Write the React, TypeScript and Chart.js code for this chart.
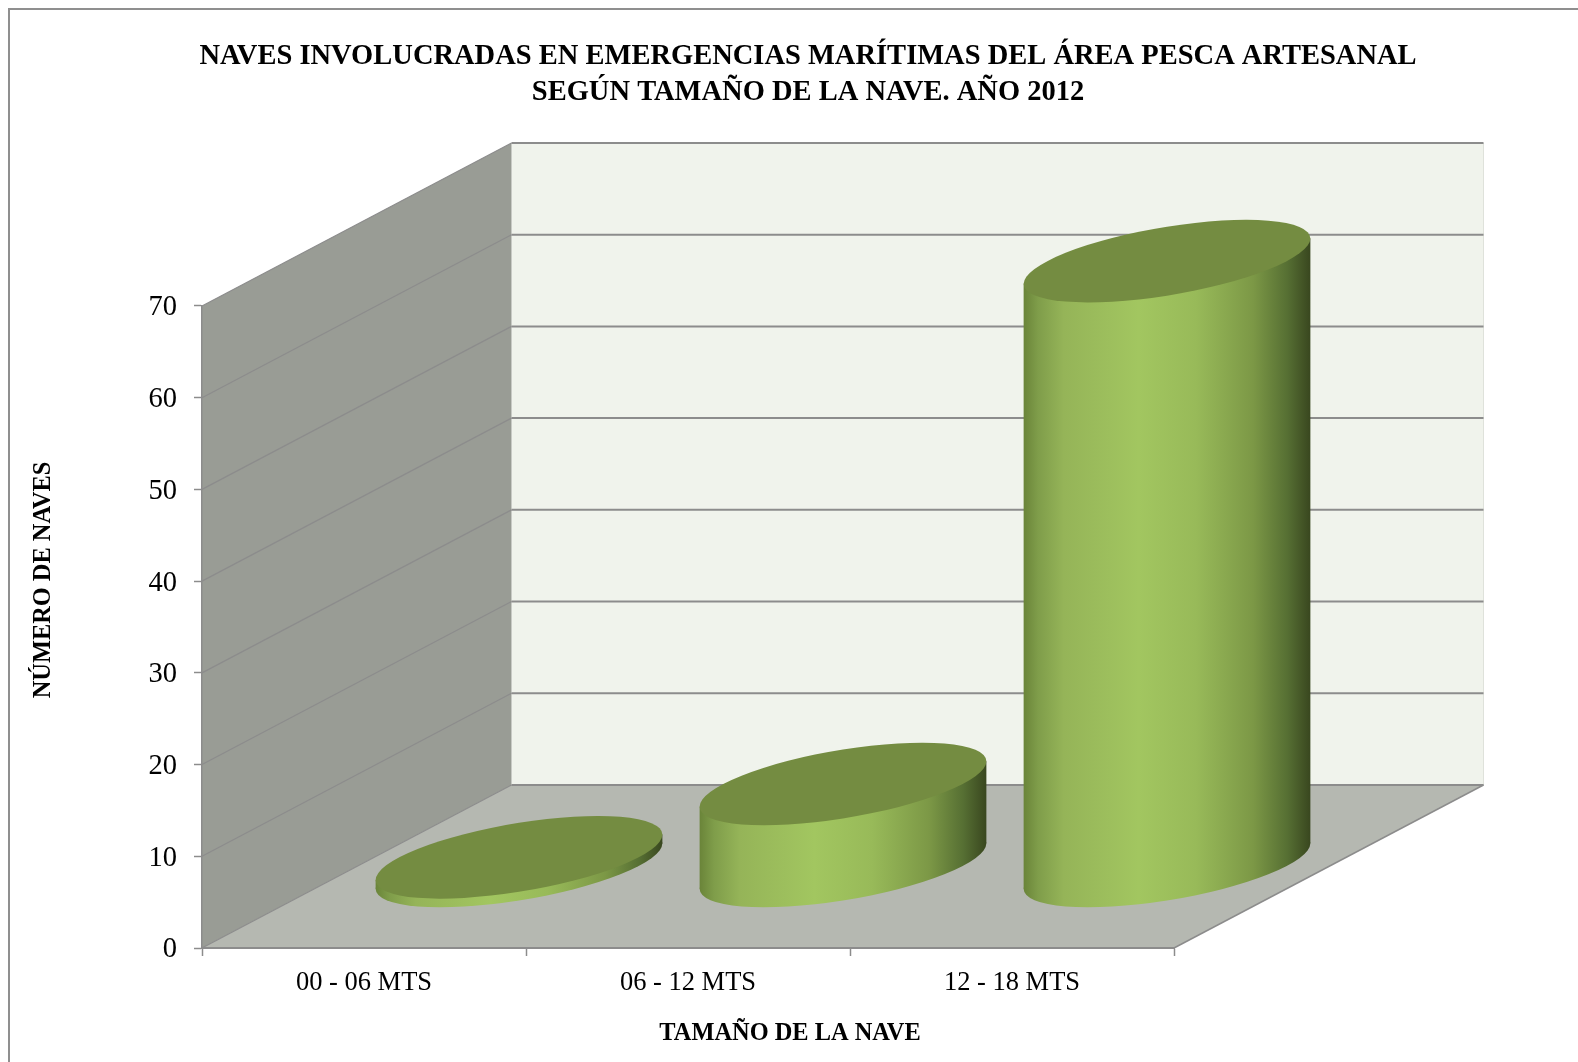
import React, { useEffect, useRef } from "react";
import { Chart, registerables } from "chart.js";

Chart.register(...registerables);

const categories = ["00 - 06 MTS", "06 - 12 MTS", "12 - 18 MTS"];
const vessels = [1, 9, 66];
const titleLines = [
  "NAVES INVOLUCRADAS EN EMERGENCIAS MARÍTIMAS DEL ÁREA PESCA ARTESANAL",
  "SEGÚN TAMAÑO DE LA NAVE. AÑO 2012",
];
const xAxisTitle = "TAMAÑO DE LA NAVE";
const yAxisTitle = "NÚMERO DE NAVES";

const FONT = '"Liberation Serif", serif';
const DEPTH_X = 309.5;
const DEPTH_Y = -163;
const BAR_DX = 155;
const BAR_DY = -81.5;
const SHEAR = -0.1585;
const CAP_RY = 34.5;

const sidePlugin = {
  id: "scene3d",
  afterLayout(chart: any) {
    if (chart.titleBlock) {
      chart.titleBlock.left = 38;
      chart.titleBlock.right = 1578;
    }
  },
  beforeDraw(chart: any) {
    const { ctx, scales } = chart;
    const x = scales.x;
    const y = scales.y;
    const wrap = (s: any, dx: number, dy: number) => {
      if (s.__wrapped) return;
      s.__wrapped = true;
      const orig = s.drawTitle;
      s.drawTitle = function () {
        ctx.save();
        ctx.translate(dx, dy);
        orig.call(s);
        ctx.restore();
      };
    };
    wrap(x, 102, 0);
    wrap(y, 0, -47);

    ctx.save();
    ctx.fillStyle = "#ffffff";
    ctx.fillRect(0, 0, chart.width, chart.height);
    ctx.strokeStyle = "#8f8f8f";
    ctx.lineWidth = 2;
    ctx.strokeRect(9, 9, 1700, 1200);

    const l = x.left;
    const r = x.right;
    const b = y.getPixelForValue(0);
    const t = y.getPixelForValue(70);

    ctx.fillStyle = "#f0f3ec";
    ctx.fillRect(l + DEPTH_X, t + DEPTH_Y, r - l, b - t);
    ctx.strokeStyle = "#dfe2db";
    ctx.lineWidth = 1;
    ctx.beginPath();
    ctx.moveTo(r + DEPTH_X, t + DEPTH_Y);
    ctx.lineTo(r + DEPTH_X, b + DEPTH_Y);
    ctx.stroke();

    ctx.fillStyle = "#999c95";
    ctx.beginPath();
    ctx.moveTo(l, b);
    ctx.lineTo(l, t);
    ctx.lineTo(l + DEPTH_X, t + DEPTH_Y);
    ctx.lineTo(l + DEPTH_X, b + DEPTH_Y);
    ctx.closePath();
    ctx.fill();

    ctx.fillStyle = "#b5b8b1";
    ctx.beginPath();
    ctx.moveTo(l, b);
    ctx.lineTo(r, b);
    ctx.lineTo(r + DEPTH_X, b + DEPTH_Y);
    ctx.lineTo(l + DEPTH_X, b + DEPTH_Y);
    ctx.closePath();
    ctx.fill();

    ctx.strokeStyle = "#8c8c8c";
    y.ticks.forEach((tick: any) => {
      const p = y.getPixelForValue(tick.value);
      ctx.lineWidth = 1.25;
      ctx.beginPath();
      ctx.moveTo(l, p);
      ctx.lineTo(l + DEPTH_X, p + DEPTH_Y);
      ctx.stroke();
      ctx.lineWidth = 2;
      ctx.beginPath();
      ctx.moveTo(l + DEPTH_X, p + DEPTH_Y);
      ctx.lineTo(r + DEPTH_X, p + DEPTH_Y);
      ctx.stroke();
    });
    ctx.lineWidth = 1.5;
    ctx.beginPath();
    ctx.moveTo(r, b);
    ctx.lineTo(r + DEPTH_X, b + DEPTH_Y);
    ctx.stroke();
    ctx.restore();
  },
  beforeDatasetDraw(chart: any, args: any) {
    const { ctx } = chart;
    args.meta.data.forEach((bar: any) => {
      const half = bar.width / 2;
      const g = ctx.createLinearGradient(bar.x - half, 0, bar.x + half, 0);
      g.addColorStop(0, "#6a8439");
      g.addColorStop(0.05, "#7f9d4a");
      g.addColorStop(0.14, "#95b458");
      g.addColorStop(0.4, "#a2c660");
      g.addColorStop(0.6, "#98ba59");
      g.addColorStop(0.8, "#7c9846");
      g.addColorStop(0.92, "#566f33");
      g.addColorStop(1, "#39471f");
      ctx.save();
      ctx.transform(1, SHEAR, 0, 1, BAR_DX, BAR_DY - SHEAR * bar.x);
      ctx.fillStyle = g;
      ctx.beginPath();
      ctx.ellipse(bar.x, bar.base, half, CAP_RY, 0, 0, Math.PI * 2);
      ctx.fill();
      bar.options = { ...bar.options, backgroundColor: g, borderWidth: 0 };
      bar.draw(ctx);
      ctx.fillStyle = "#748c41";
      ctx.beginPath();
      ctx.ellipse(bar.x, bar.y, half, CAP_RY, 0, 0, Math.PI * 2);
      ctx.fill();
      ctx.restore();
    });
    return false;
  },
};

export default function App() {
  const ref = useRef<HTMLCanvasElement | null>(null);
  useEffect(() => {
    const chart = new Chart(ref.current as HTMLCanvasElement, {
      type: "bar",
      data: {
        labels: categories,
        datasets: [
          {
            label: yAxisTitle,
            data: vessels,
            barPercentage: 0.885,
            categoryPercentage: 1,
            backgroundColor: "#a2c660",
            clip: false,
          } as any,
        ],
      },
      options: {
        responsive: false,
        animation: false,
        layout: {
          autoPadding: false,
          padding: { left: 0, right: 404, top: 0, bottom: 14 },
        },
        plugins: {
          legend: { display: false },
          tooltip: { enabled: false },
          title: {
            display: true,
            text: titleLines,
            color: "#000000",
            font: { family: FONT, size: 28.5, weight: "bold", lineHeight: 1.28 },
            padding: { top: 38, bottom: 195 },
          },
        },
        scales: {
          x: {
            afterFit(s: any) {
              s.height = 100;
            },
            grid: {
              drawOnChartArea: false,
              drawTicks: true,
              tickLength: 8,
              tickWidth: 1.5,
              tickColor: "#8c8c8c",
            },
            border: { color: "#8c8c8c", width: 2 },
            ticks: {
              color: "#000000",
              padding: 11,
              maxRotation: 0,
              font: { family: FONT, size: 26.5 },
            },
            title: {
              display: true,
              text: xAxisTitle,
              color: "#000000",
              font: { family: FONT, size: 24.4, weight: "bold" },
              padding: { top: 0, bottom: 0 },
            },
          },
          y: {
            min: 0,
            max: 70,
            afterFit(s: any) {
              s.width = 202;
            },
            grid: {
              drawOnChartArea: false,
              drawTicks: true,
              tickLength: 8,
              tickWidth: 1.5,
              tickColor: "#8c8c8c",
            },
            border: { color: "#8c8c8c", width: 1.5 },
            ticks: {
              stepSize: 10,
              color: "#000000",
              padding: 17,
              labelOffset: 2,
              font: { family: FONT, size: 28.5 },
            },
            title: {
              display: true,
              text: yAxisTitle,
              color: "#000000",
              font: { family: FONT, size: 24.4, weight: "bold" },
              padding: { top: 29, bottom: 0 },
            },
          },
        },
      },
      plugins: [sidePlugin as any],
    });
    return () => chart.destroy();
  }, []);
  return (
    <canvas
      ref={ref}
      width={1578}
      height={1062}
      style={{ position: "absolute", left: 0, top: 0, display: "block" }}
    />
  );
}
